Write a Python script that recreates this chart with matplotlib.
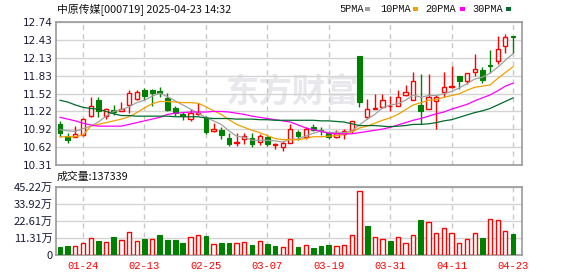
import numpy as np
import matplotlib
matplotlib.use("Agg")
import matplotlib.pyplot as plt
from matplotlib.patches import Rectangle

plt.rcParams['font.family'] = ['Noto Sans CJK SC', 'DejaVu Sans']

# trading days shown
dates = ['01-21', '01-22', '01-23', '01-24', '01-27', '02-05', '02-06', '02-07', '02-10', '02-11',
         '02-12', '02-13', '02-14', '02-17', '02-18', '02-19', '02-20', '02-21', '02-24', '02-25',
         '02-26', '02-27', '02-28', '03-03', '03-04', '03-05', '03-06', '03-07', '03-10', '03-11',
         '03-12', '03-13', '03-14', '03-17', '03-18', '03-19', '03-20', '03-21', '03-24', '03-25',
         '03-26', '03-27', '03-28', '03-31', '04-01', '04-02', '04-03', '04-07', '04-08', '04-09',
         '04-10', '04-11', '04-14', '04-15', '04-16', '04-17', '04-18', '04-21', '04-22', '04-23']

opens = [11.01, 10.81, 10.79, 10.82, 11.14, 11.41, 11.15, 11.24, 11.23, 11.33,
         11.44, 11.58, 11.59, 11.56, 11.45, 11.28, 11.18, 11.09, 11.17, 11.11,
         10.88, 10.91, 10.77, 10.69, 10.76, 10.77, 10.70, 10.78, 10.65, 10.61,
         10.69, 10.87, 10.78, 10.96, 10.91, 10.85, 10.78, 10.84, 10.90, 12.17,
         11.12, 11.27, 11.29, 11.31, 11.32, 11.50, 11.42, 11.33, 11.27, 11.39,
         11.55, 11.64, 11.82, 11.73, 11.89, 11.93, 12.01, 12.07, 12.34, 12.50]
closes = [10.86, 10.73, 10.84, 11.09, 11.31, 11.22, 11.26, 11.21, 11.27, 11.54,
          11.55, 11.49, 11.54, 11.54, 11.24, 11.20, 11.15, 11.19, 11.19, 10.87,
          10.92, 10.82, 10.67, 10.70, 10.81, 10.66, 10.80, 10.67, 10.66, 10.69,
          10.92, 10.81, 10.92, 10.91, 10.88, 10.78, 10.85, 10.88, 11.05, 11.38,
          11.27, 11.28, 11.41, 11.32, 11.47, 11.55, 11.73, 11.23, 11.46, 11.47,
          11.63, 11.65, 11.73, 11.87, 11.94, 11.76, 12.00, 12.28, 12.49, 12.48]
highs = [11.06, 10.86, 10.97, 11.11, 11.46, 11.47, 11.28, 11.33, 11.38, 11.59,
         11.59, 11.62, 11.60, 11.63, 11.54, 11.32, 11.21, 11.27, 11.36, 11.15,
         11.02, 10.96, 10.85, 10.85, 10.86, 10.85, 10.83, 10.81, 10.68, 10.71,
         11.00, 10.91, 10.95, 11.00, 10.95, 10.88, 10.91, 10.93, 11.06, 12.17,
         11.44, 11.51, 11.51, 11.48, 11.59, 11.67, 11.89, 11.86, 11.86, 11.50,
         11.89, 12.00, 11.82, 11.88, 12.20, 11.98, 12.26, 12.51, 12.54, 12.51]
lows = [10.79, 10.69, 10.78, 10.81, 11.13, 11.13, 11.09, 11.16, 11.23, 11.20,
        11.42, 11.41, 11.31, 11.47, 11.23, 11.15, 11.08, 11.06, 11.16, 10.83,
        10.87, 10.75, 10.64, 10.64, 10.67, 10.61, 10.65, 10.64, 10.58, 10.54,
        10.68, 10.74, 10.76, 10.89, 10.82, 10.75, 10.77, 10.76, 10.85, 11.29,
        11.09, 11.26, 11.28, 11.22, 11.31, 11.49, 11.42, 11.01, 11.27, 10.92,
        11.47, 11.61, 11.60, 11.68, 11.82, 11.71, 11.87, 12.02, 12.21, 12.21]

ma5 = [10.91, 10.89, 10.88, 10.93, 10.97, 11.04, 11.14, 11.22, 11.25, 11.30,
       11.37, 11.41, 11.48, 11.53, 11.47, 11.40, 11.33, 11.26, 11.19, 11.12,
       11.06, 11.00, 10.89, 10.80, 10.78, 10.73, 10.73, 10.73, 10.72, 10.70,
       10.75, 10.75, 10.80, 10.85, 10.89, 10.86, 10.87, 10.86, 10.89, 10.99,
       11.09, 11.17, 11.28, 11.33, 11.35, 11.41, 11.50, 11.46, 11.49, 11.49,
       11.52, 11.56, 11.62, 11.69, 11.77, 11.80, 11.87, 11.97, 12.09, 12.20]
ma10 = [10.79, 10.79, 10.79, 10.82, 10.97, 11.00, 11.03, 11.06, 11.09, 11.13,
        11.20, 11.28, 11.35, 11.39, 11.39, 11.38, 11.37, 11.37, 11.36, 11.30,
        11.23, 11.17, 11.08, 11.00, 10.95, 10.90, 10.86, 10.81, 10.76, 10.74,
        10.74, 10.74, 10.76, 10.79, 10.79, 10.80, 10.81, 10.83, 10.87, 10.94,
        10.97, 11.02, 11.07, 11.11, 11.17, 11.25, 11.33, 11.37, 11.41, 11.42,
        11.46, 11.49, 11.52, 11.58, 11.63, 11.65, 11.67, 11.78, 11.88, 11.98]
ma20 = [11.12, 11.09, 11.06, 11.02, 10.99, 10.97, 10.97, 10.97, 10.97, 11.00,
        11.03, 11.06, 11.09, 11.12, 11.17, 11.19, 11.20, 11.21, 11.21, 11.21,
        11.22, 11.22, 11.21, 11.19, 11.17, 11.14, 11.12, 11.10, 11.08, 11.06,
        11.04, 10.99, 10.94, 10.91, 10.88, 10.85, 10.84, 10.84, 10.84, 10.86,
        10.88, 10.90, 10.92, 10.95, 10.99, 11.03, 11.07, 11.10, 11.14, 11.18,
        11.21, 11.26, 11.30, 11.34, 11.40, 11.45, 11.50, 11.57, 11.65, 11.70]
ma30 = [11.41, 11.38, 11.33, 11.29, 11.27, 11.26, 11.22, 11.18, 11.15, 11.15,
        11.14, 11.14, 11.14, 11.14, 11.14, 11.13, 11.13, 11.13, 11.13, 11.11,
        11.10, 11.10, 11.10, 11.09, 11.09, 11.09, 11.08, 11.08, 11.07, 11.07,
        11.07, 11.07, 11.07, 11.07, 11.06, 11.06, 11.05, 11.04, 11.01, 10.98,
        10.98, 10.98, 10.97, 10.96, 10.97, 10.98, 11.00, 11.00, 11.01, 11.03,
        11.06, 11.08, 11.12, 11.16, 11.20, 11.23, 11.27, 11.33, 11.39, 11.45]

# volume in 万
volume = [5.32, 5.99, 5.99, 7.76, 11.09, 9.31, 8.42, 11.97, 9.75, 15.08,
          9.09, 10.64, 10.64, 13.30, 9.98, 9.98, 7.98, 11.75, 13.08, 12.64,
          7.09, 7.98, 7.98, 7.76, 8.42, 6.65, 9.09, 7.32, 5.99, 5.10,
          10.42, 5.32, 6.43, 4.66, 5.99, 6.65, 5.99, 6.65, 13.08, 42.34,
          19.29, 11.75, 10.42, 9.31, 11.97, 7.76, 13.08, 23.28, 21.73, 14.41,
          17.96, 14.41, 7.76, 10.42, 14.41, 11.31, 23.94, 23.06, 15.74, 13.7339]
# 1 = red (up vs previous close), 0 = green
vol_up = [0, 0, 1, 1, 1, 0, 1, 0, 1, 1,
          1, 0, 1, 0, 0, 0, 0, 1, 1, 0,
          1, 0, 0, 1, 1, 0, 1, 0, 0, 1,
          1, 0, 1, 0, 0, 0, 1, 1, 1, 1,
          0, 1, 1, 0, 1, 1, 1, 0, 1, 1,
          1, 1, 1, 1, 1, 0, 1, 1, 1, 0]

price_labels = ['10.31', '10.62', '10.92', '11.22', '11.52', '11.83', '12.13', '12.43', '12.74']
vol_ticks = [0, 11.31, 22.61, 33.92, 45.22]
vol_labels = ['0', '11.31万', '22.61万', '33.92万', '45.22万']
tick_idx = [3, 11, 19, 27, 35, 43, 51, 59]
ma_names = ['5PMA', '10PMA', '20PMA', '30PMA']
ma_colors = ['#a0a0a0', '#f0a000', '#ff00ff', '#006b2c']

RED = '#ff0000'
GREEN = '#008000'
GRID = '#d4d4d4'
SPINE = '#9a9a9a'
LABEL = '#1a1a38'

W, H = 578, 276
fig = plt.figure(figsize=(W / 100, H / 100), dpi=100)

def fx(px):
    return px / W

def fy(py):
    return 1 - py / H

ax = fig.add_axes([fx(56), fy(165), fx(522 - 56), (165 - 22) / H])
axv = fig.add_axes([fx(56), fy(255), fx(522 - 56), (255 - 187) / H])

x = np.arange(len(dates))
o = np.array(opens)
c = np.array(closes)
hi = np.array(highs)
lo = np.array(lows)
up = c >= o

# candles
ax.vlines(x[~up], lo[~up], hi[~up], color=GREEN, lw=1, zorder=3)
ax.vlines(x[up], np.maximum(o, c)[up], hi[up], color=RED, lw=1, zorder=3)
ax.vlines(x[up], lo[up], np.minimum(o, c)[up], color=RED, lw=1, zorder=3)
body = np.maximum(np.abs(c - o), 0.002)
ax.bar(x[~up], body[~up], bottom=c[~up], width=0.62, color=GREEN, edgecolor=GREEN, lw=0.8, zorder=4)
ax.bar(x[up], body[up], bottom=o[up], width=0.55, facecolor='white', edgecolor=RED, lw=1, zorder=4)

for vals, col in zip([ma5, ma10, ma20, ma30], ma_colors):
    ax.plot(x, vals, color=col, lw=0.9, zorder=5)

ax.text(0.505, 0.5, '东方财富', transform=ax.transAxes, fontsize=24, fontweight='bold',
        color='#e8e8ec', ha='center', va='center', zorder=0.5)

ax.set_xlim(-0.52, 60.17)
ax.set_ylim(10.31, 12.74)
ax.set_yticks(np.linspace(10.31, 12.74, len(price_labels)))
ax.set_yticklabels(price_labels, family='DejaVu Sans', fontsize=7.5, color=LABEL)
ax.set_xticks(tick_idx)
ax.set_xticklabels([])

# volume
v = np.array(volume)
vu = np.array(vol_up) == 1
axv.bar(x[~vu], v[~vu], width=0.62, color=GREEN, edgecolor=GREEN, lw=0.8, zorder=3)
axv.bar(x[vu], v[vu], width=0.55, facecolor='white', edgecolor=RED, lw=1, zorder=3)
axv.set_xlim(-0.52, 60.17)
axv.set_ylim(0, 45.22)
axv.set_yticks(vol_ticks)
axv.set_yticklabels(vol_labels, fontsize=8, color=LABEL)
axv.set_xticks(tick_idx)
axv.set_xticklabels([dates[i] for i in tick_idx], family='Liberation Mono', fontsize=7.6, color=RED)

for a in (ax, axv):
    a.tick_params(length=0, pad=2.5)
    a.grid(axis='y', color=GRID, lw=1, zorder=0)
    a.grid(axis='x', color='#c8c8c8', lw=1, ls=(0, (3.5, 3)), zorder=0)
    a.set_axisbelow(True)
    for s in a.spines.values():
        s.set_color(SPINE)
        s.set_linewidth(1.2)
axv.tick_params(axis='x', pad=4)

# header texts
fig.text(fx(57), fy(9), '中原传媒[000719] 2025-04-23 14:32', fontsize=7.8, va='center', ha='left', color='#111111')
fig.text(fx(57), fy(177), '成交量:%d' % round(volume[-1] * 10000), fontsize=7.8, va='center', ha='left', color='#111111')

leg_x = [339, 380, 425, 472]
sq_x = [365, 413, 460, 506]
for name, col, tx, sx in zip(ma_names, ma_colors, leg_x, sq_x):
    fig.text(fx(tx), fy(9), name, family='Liberation Mono', fontsize=7.4, va='center', ha='left', color='#111111')
    fig.patches.append(Rectangle((fx(sx), fy(11)), 5 / W, 4 / H, transform=fig.transFigure,
                                 facecolor=col, edgecolor='none'))

fig.savefig('out.png', dpi=100)
